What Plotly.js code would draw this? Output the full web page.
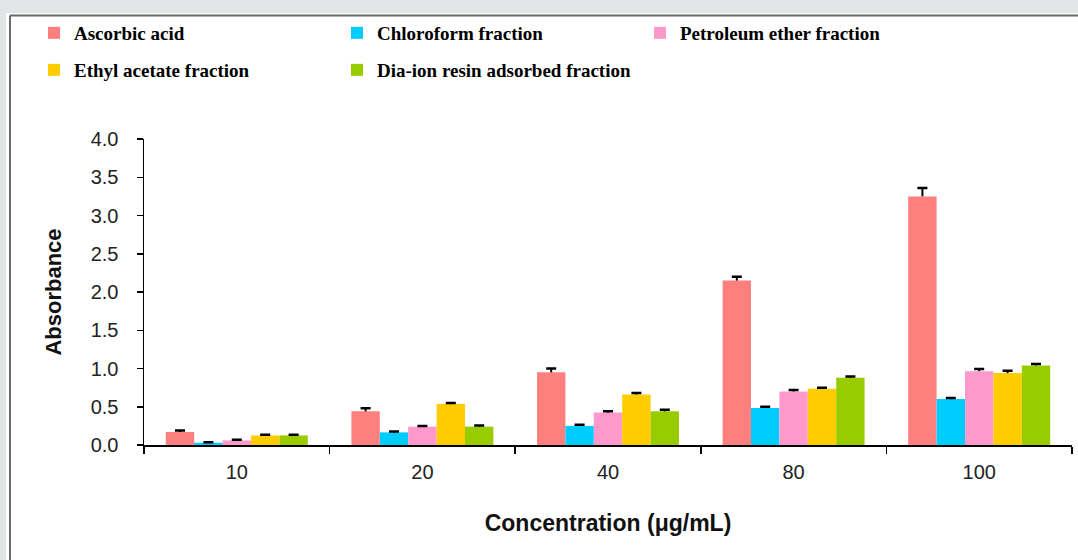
<!DOCTYPE html>
<html>
<head>
<meta charset="utf-8">
<script src="https://cdn.plot.ly/plotly-3.0.1.min.js"></script>
<style>
  html, body { margin: 0; padding: 0; background: #ffffff; overflow: hidden; }
  #chart { width: 1078px; height: 560px; }
</style>
</head>
<body>
<div id="chart"></div>
<script>
// ---- data ----
const categories = ["10", "20", "40", "80", "100"];
const seriesNames = ["Ascorbic acid", "Chloroform fraction", "Petroleum ether fraction", "Ethyl acetate fraction", "Dia-ion resin adsorbed fraction"];
const ascorbicAcid   = [0.17, 0.44, 0.95, 2.15, 3.25];
const chloroform     = [0.03, 0.165, 0.25, 0.485, 0.60];
const petroleumEther = [0.06, 0.24, 0.425, 0.70, 0.965];
const ethylAcetate   = [0.125, 0.535, 0.66, 0.735, 0.94];
const diaIonResin    = [0.125, 0.24, 0.44, 0.88, 1.04];
const ascorbicErr    = [0.02, 0.04, 0.05, 0.05, 0.11];
const chloroformErr  = [0.005, 0.01, 0.015, 0.015, 0.015];
const petroleumErr   = [0.01, 0.01, 0.015, 0.02, 0.03];
const ethylErr       = [0.01, 0.015, 0.02, 0.015, 0.03];
const diaIonErr      = [0.01, 0.015, 0.02, 0.015, 0.02];
const yTicks = [0, 0.5, 1.0, 1.5, 2.0, 2.5, 3.0, 3.5, 4.0];

// ---- styles ----
const colors = ["#ff7f7f", "#00ccff", "#ff99cc", "#ffcc00", "#99cc00"];
const values = [ascorbicAcid, chloroform, petroleumEther, ethylAcetate, diaIonResin];
const errors = [ascorbicErr, chloroformErr, petroleumErr, ethylErr, diaIonErr];
const legendOf = ["legend", "legend", "legend", "legend2", "legend2"];

const traces = [];
values.forEach((v, i) => {
  // bar with upward error stem (no caps)
  traces.push({
    type: "bar",
    name: seriesNames[i],
    x: categories,
    y: v,
    offsetgroup: "g" + i,
    legend: legendOf[i],
    marker: { color: colors[i], line: { width: 0 } },
    error_y: {
      type: "data", symmetric: false,
      array: errors[i], arrayminus: errors[i].map(() => 0),
      color: "#000", thickness: 2, width: 0
    }
  });
});
values.forEach((v, i) => {
  // invisible bar at the top of the error range, carrying only the cap
  traces.push({
    type: "bar",
    name: seriesNames[i] + " cap",
    x: categories,
    y: v.map((val, k) => val + errors[i][k]),
    offsetgroup: "g" + i,
    showlegend: false,
    marker: { color: "rgba(0,0,0,0)", line: { width: 0 } },
    error_y: { type: "data", array: v.map(() => 0), color: "#000", thickness: 2.5, width: 5 }
  });
});

// plot area: x 144..1072, y 139..445
const L = 144, R = 1072, T = 139, B = 445;
const px = p => (p - L) / (R - L);
const py = p => (B - p) / (B - T);

const legendFont = { family: "Liberation Serif, Times New Roman, serif", size: 19, color: "#000", weight: "bold" };

const layout = {
  width: 1078, height: 560,
  margin: { l: L, r: 1078 - R, t: T, b: 560 - B },
  paper_bgcolor: "#e1e5e5",
  plot_bgcolor: "rgba(0,0,0,0)",
  barmode: "group",
  bargap: 0.235,
  bargroupgap: 0,
  font: { family: "Liberation Sans, Arial, sans-serif", color: "#222" },
  showlegend: true,
  legend: {
    orientation: "h", xref: "container", yref: "container",
    x: 34 / 1078, y: 1 - 14 / 560, xanchor: "left", yanchor: "top",
    entrywidth: 258, entrywidthmode: "pixels",
    font: legendFont, bgcolor: "rgba(0,0,0,0)", traceorder: "normal"
  },
  legend2: {
    orientation: "h", xref: "container", yref: "container",
    x: 34 / 1078, y: 1 - 51 / 560, xanchor: "left", yanchor: "top",
    entrywidth: 258, entrywidthmode: "pixels",
    font: legendFont, bgcolor: "rgba(0,0,0,0)", traceorder: "normal"
  },
  xaxis: {
    type: "category",
    tickson: "boundaries",
    ticks: "outside", ticklen: 7, tickwidth: 1.5, tickcolor: "#000",
    ticklabelstandoff: 8,
    showline: true, linecolor: "#000", linewidth: 1.5,
    showgrid: false, zeroline: false,
    tickfont: { size: 20, color: "#222" },
    title: { text: "Concentration (μg/mL)", font: { size: 23, color: "#111", weight: "bold" }, standoff: 33 }
  },
  yaxis: {
    range: [0, 4],
    tickvals: yTicks,
    tickformat: ".1f",
    ticks: "outside", ticklen: 6, tickwidth: 1.5, tickcolor: "#000",
    ticklabelstandoff: 14,
    showline: true, linecolor: "#000", linewidth: 1.5,
    showgrid: false, zeroline: false,
    tickfont: { size: 20, color: "#222" },
    title: { text: "Absorbance", font: { size: 22, color: "#111", weight: "bold" }, standoff: 23 }
  },
  shapes: [
    { type: "rect", xref: "paper", yref: "paper", layer: "below",
      x0: px(6), x1: px(1100), y0: py(600), y1: py(13),
      fillcolor: "#ffffff", line: { width: 0 } },
    { type: "line", xref: "paper", yref: "paper", layer: "below",
      x0: px(10), x1: px(1100), y0: py(15.5), y1: py(15.5),
      line: { color: "#6b6b6b", width: 2 } },
    { type: "line", xref: "paper", yref: "paper", layer: "below",
      x0: px(10), x1: px(10), y0: py(15.5), y1: py(600),
      line: { color: "#6b6b6b", width: 2 } }
  ]
};

Plotly.newPlot("chart", traces, layout, { displayModeBar: false, staticPlot: true });
</script>
</body>
</html>
